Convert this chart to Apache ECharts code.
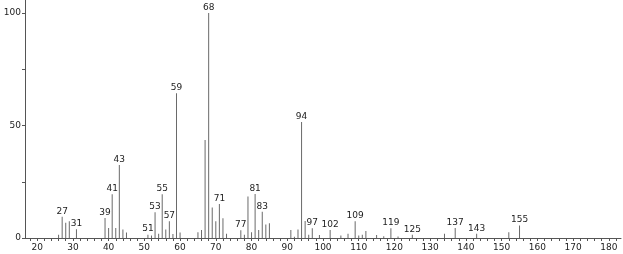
<!DOCTYPE html>
<html>
<head>
<meta charset="utf-8">
<script src="https://cdn.jsdelivr.net/npm/echarts@6/dist/echarts.min.js"></script>
<style>html,body{margin:0;padding:0;background:#fff}#c{width:623px;height:254px}</style>
</head>
<body>
<div id="c"></div>
<script>
const masses = [26,27,28,29,31,39,40,41,42,43,44,45,51,52,53,54,55,56,57,58,59,60,65,66,67,68,69,70,71,72,73,77,78,79,80,81,82,83,84,85,91,92,93,94,95,96,97,99,102,105,107,109,110,111,112,115,117,119,121,125,134,137,143,152,155];
const intensities = [1.4,9.4,6.8,7.4,3.9,8.9,4.4,19.4,4.4,32.4,3.8,2.5,1.5,1.1,11.4,1.9,19.5,3.8,7.5,1.8,64.4,2.5,2.6,3.6,43.6,100,13.6,7.5,15.1,8.8,1.9,3.4,1.4,18.4,2.6,19.6,3.6,11.7,6.0,6.6,3.6,0.6,3.8,51.6,7.6,1.4,4.3,1.3,3.6,1.1,1.9,7.4,1.1,1.4,3.1,1.3,0.8,4.3,0.7,1.4,1.9,4.4,1.9,2.6,5.6];
const labeledMasses = [27,31,39,41,43,51,53,55,57,59,68,71,77,81,83,94,97,102,109,119,125,137,143,155];
const xTickLabels = [20,30,40,50,60,70,80,90,100,110,120,130,140,150,160,170,180];
const xMinorTicks = [18,20,22,24,26,28,30,32,34,36,38,40,42,44,46,48,50,52,54,56,58,60,62,64,66,68,70,72,74,76,78,80,82,84,86,88,90,92,94,96,98,100,102,104,106,108,110,112,114,116,118,120,122,124,126,128,130,132,134,136,138,140,142,144,146,148,150,152,154,156,158,160,162,164,166,168,170,172,174,176,178,180,182];
const yTickLabels = [0,50,100];
const yTicks = [0,25,50,75,100];

const data = masses.map((m,i)=>({
  value:[m,intensities[i]],
  label:{show: labeledMasses.indexOf(m)>=0}
}));

const chart = echarts.init(document.getElementById('c'));
chart.setOption({
  animation:false,
  grid:{left:25,right:2,top:0,bottom:16},
  xAxis:{
    type:'value', min:16.6, max:183.4,
    axisLine:{lineStyle:{color:'#555',width:1}},
    axisTick:{show:true, customValues:xMinorTicks, length:3, lineStyle:{color:'#555'}},
    axisLabel:{customValues:xTickLabels, color:'#222', fontSize:9, fontFamily:'DejaVu Sans', margin:5},
    splitLine:{show:false}
  },
  yAxis:{
    type:'value', min:0, max:105.8,
    axisLine:{show:true, lineStyle:{color:'#555',width:1}},
    axisTick:{show:true, customValues:yTicks, length:3, lineStyle:{color:'#555'}},
    axisLabel:{customValues:yTickLabels, color:'#222', fontSize:9, fontFamily:'DejaVu Sans', margin:4},
    splitLine:{show:false}
  },
  series:[{
    type:'bar', barWidth:1,
    itemStyle:{color:'#6a6a6a'},
    label:{position:'top', distance:1, color:'#222', fontSize:9, fontFamily:'DejaVu Sans',
      formatter:p=>String(p.value[0])},
    data:data
  }]
});
</script>
</body>
</html>
